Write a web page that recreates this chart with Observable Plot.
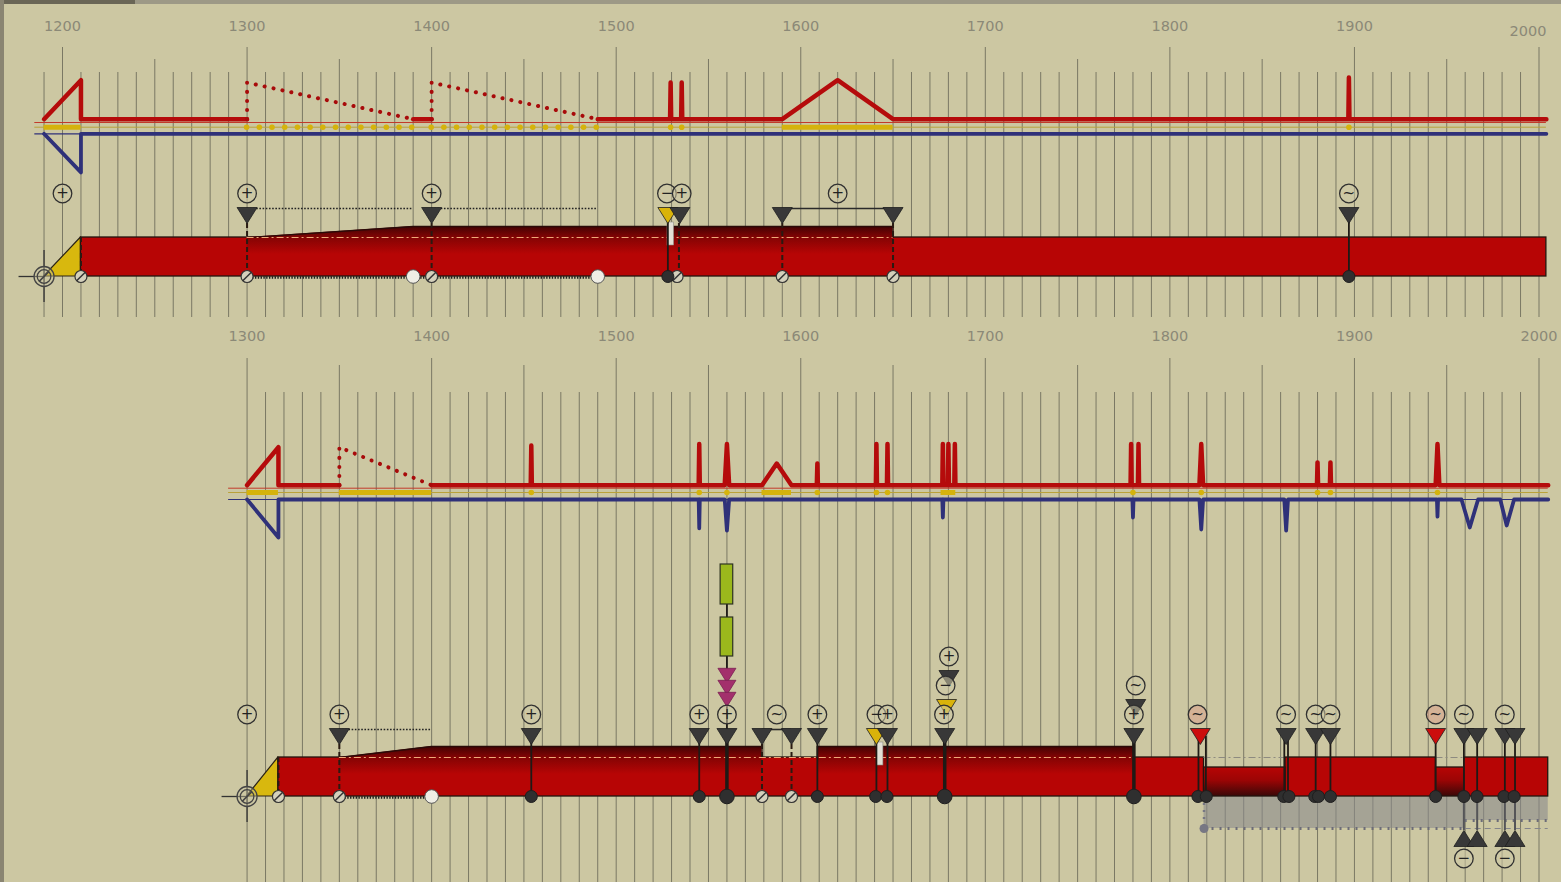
<!DOCTYPE html>
<html><head><meta charset="utf-8">
<script src="https://cdn.jsdelivr.net/npm/d3@7"></script>
<script src="https://cdn.jsdelivr.net/npm/@observablehq/plot@0.6"></script>
<style>
html,body{margin:0;padding:0;background:#ccc7a2;width:1561px;height:882px;overflow:hidden;font-family:"DejaVu Sans",sans-serif;}
#chart svg{display:block}
#stripTop{position:absolute;left:0;top:0;width:1561px;height:4px;background:#9d9986;}
#stripTopDark{position:absolute;left:0;top:0;width:135px;height:4px;background:#6a6656;}
#stripLeft{position:absolute;left:0;top:0;width:4px;height:882px;background:#8a8572;}
</style></head>
<body>
<div id="chart"></div>
<div id="stripTop"></div><div id="stripTopDark"></div><div id="stripLeft"></div>
<script>
// ======================= DATA =======================
// tick labels
const topTickYears = [1200,1300,1400,1500,1600,1700,1800,1900,2000];
const bottomTickYears = [1300,1400,1500,1600,1700,1800,1900,2000];
const topGridYears = d3.range(1190, 2001, 10);
const bottomGridYears = d3.range(1300, 2001, 10);

// ---------- upper panel ----------
const aThinRange = [1185, 2004];
const aRedSolid = [
  [[1190,0],[1210,1],[1210,0],[1300,0]],
  [[1390,0],[1400,0]],
  [[1490,0],[1529.2,0],[1529.5,0.94],[1529.8,0],[1535.2,0],[1535.5,0.94],[1535.8,0],[1590,0],[1620,1],[1650,0],[1896.7,0],[1897,1.07],[1897.3,0],[2004,0]]
];
const aRedDotted = [[[1300,0],[1300,0.94],[1390,0]], [[1400,0],[1400,0.94],[1490,0]]];
const aBlue = [[[1190,0],[1210,0.99],[1210,0],[2004,0]]];
const aYellowSolid = [[1190,1210],[1590,1650]];
const aYellowDotted = [[1300,1390],[1400,1490]];
const aYellowDots = [1529.5,1535.5,1897];
const aOrigin = [1190];
const aWedge = [1190,1210];
const aBar = [{from:1210,to:2004,level:"normal"}];
const aRaised = [[[1300,0],[1390,1],[1650,1],[1650,0]]];
const aDashDot = [[1300,1650]];
const aDashDotLowered = [];
const aGaps = [1529.6];
const aWedgeStem = [1210];
const aStemsDashed = [1300,1400,1534,1590,1650];
const aStemsSolid = [1528,1897];
const aStemsThick = [];
const aLinksDotted = [[1300,1390],[1400,1490]];
const aLinksSolid = [[1590,1650]];
const aFootDotted = [[1300,1490]];
const aTriangles = [
  {year:1300,kind:"gray",tier:0},{year:1400,kind:"gray",tier:0},
  {year:1528,kind:"yellow",tier:0},{year:1534.5,kind:"gray",tier:0},
  {year:1590,kind:"gray",tier:0},{year:1650,kind:"gray",tier:0},{year:1897,kind:"gray",tier:0}
];
const aSigns = [
  {year:1200,sign:"+",tier:0},{year:1300,sign:"+",tier:0},{year:1400,sign:"+",tier:0},
  {year:1527.5,sign:"−",tier:0},{year:1535.5,sign:"+",tier:0},{year:1620,sign:"+",tier:0},{year:1897,sign:"~",tier:0}
];
const aFeet = [
  {year:1210,kind:"hatched"},{year:1300,kind:"hatched"},{year:1390,kind:"open"},{year:1400,kind:"hatched"},
  {year:1490,kind:"open"},{year:1528,kind:"filled"},{year:1533,kind:"hatched"},{year:1590,kind:"hatched"},
  {year:1650,kind:"hatched"},{year:1897,kind:"filled"}
];

// ---------- lower panel ----------
const bThinRange = [1290, 2005];
const bRedSolid = [
  [[1300,0],[1317,0.95],[1317,0],[1350,0]],
  [[1400,0],[1453.7,0],[1454,0.99],[1454.3,0],[1544.7,0],[1545,1.03],[1545.3,0],[1558.8,0],[1560,1.03],[1561.2,0],
   [1579,0],[1587,0.54],[1595,0],[1608.7,0],[1609,0.54],[1609.3,0],[1640.7,0],[1641,1.03],[1641.3,0],
   [1646.7,0],[1647,1.03],[1647.3,0],[1676.7,0],[1677,1.03],[1677.3,0],[1679.7,0],[1680,1.03],[1680.3,0],
   [1683.2,0],[1683.5,1.03],[1683.8,0],[1778.7,0],[1779,1.03],[1779.3,0],[1782.7,0],[1783,1.03],[1783.3,0],
   [1816,0],[1817,1.03],[1818,0],[1879.7,0],[1880,0.57],[1880.3,0],[1886.7,0],[1887,0.57],[1887.3,0],
   [1944,0],[1945,1.03],[1946,0],[2005,0]]
];
const bRedDotted = [[[1350,0],[1350,0.95],[1400,0]]];
const bBlue = [[[1300,0],[1317,0.95],[1317,0],[1544.7,0],[1545,0.72],[1545.3,0],[1558.8,0],[1560,0.78],[1561.2,0],
  [1676.7,0],[1677,0.45],[1677.3,0],[1779.7,0],[1780,0.45],[1780.3,0],[1816,0],[1817,0.75],[1818,0],
  [1862,0],[1863,0.78],[1864,0],[1944.7,0],[1945,0.43],[1945.3,0],[1958,0],[1962.5,0.7],[1967,0],
  [1979,0],[1982.5,0.65],[1986.5,0],[2005,0]]];
const bYellowSolid = [[1300,1317],[1350,1400],[1579,1595],[1676,1684]];
const bYellowDotted = [];
const bYellowDots = [1454,1545,1560,1609,1641,1647,1780,1817,1880,1887,1945];
const bOrigin = [1300];
const bWedge = [1300,1317];
const bBar = [
  {from:1317,to:1818.5,level:"normal"},{from:1818.5,to:1862.6,level:"lowered"},
  {from:1862.6,to:1944.2,level:"normal"},{from:1944.2,to:1959.5,level:"lowered"},
  {from:1959.5,to:2005,level:"normal"}
];
const bRaised = [[[1350,0],[1400,1],[1579,1],[1579,0]], [[1609,0],[1609,1],[1780.5,1],[1780.5,0]]];
const bDashDot = [[1350,1780.5]];
const bDashDotLowered = [[1818.5,1862.6],[1944.2,1959.5]];
const bGaps = [1643];
const bWedgeStem = [1317];
const bStemsDashed = [1350,1579,1595];
const bStemsSolid = [1454,1545,1609,1641,1647,1815.5,1819.5,1862,1864,1879,1887,1944,1959.3,1966.5,1981.5,1987];
const bStemsThick = [1560,1678,1780.5];
const bLinksDotted = [[1350,1400]];
const bLinksSolid = [[1579,1595]];
const bFootDotted = [[1350,1400]];
const bTriangles = [
  {year:1350,kind:"gray",tier:0},{year:1454,kind:"gray",tier:0},{year:1545,kind:"gray",tier:0},
  {year:1560,kind:"gray",tier:0},{year:1579,kind:"gray",tier:0},{year:1595,kind:"gray",tier:0},
  {year:1609,kind:"gray",tier:0},{year:1641,kind:"yellow",tier:0},{year:1647,kind:"gray",tier:0},
  {year:1678,kind:"gray",tier:0},{year:1679,kind:"yellow",tier:1},{year:1680.3,kind:"gray",tier:2},
  {year:1780.5,kind:"gray",tier:0},{year:1781.5,kind:"gray",tier:1},{year:1816.5,kind:"red",tier:0},
  {year:1863,kind:"gray",tier:0},{year:1879,kind:"gray",tier:0},{year:1887,kind:"gray",tier:0},
  {year:1944,kind:"red",tier:0},{year:1959.3,kind:"gray",tier:0},{year:1966.5,kind:"gray",tier:0},
  {year:1981.5,kind:"gray",tier:0},{year:1987,kind:"gray",tier:0}
];
const bSigns = [
  {year:1300,sign:"+",tier:0},{year:1350,sign:"+",tier:0},{year:1454,sign:"+",tier:0},{year:1545,sign:"+",tier:0},
  {year:1560,sign:"+",tier:0},{year:1587,sign:"~",tier:0},{year:1609,sign:"+",tier:0},{year:1641,sign:"−",tier:0},
  {year:1647,sign:"+",tier:0},{year:1677.6,sign:"+",tier:0},{year:1678.5,sign:"−",tier:1},{year:1680.3,sign:"+",tier:2},
  {year:1780.5,sign:"+",tier:0},{year:1781.5,sign:"~",tier:1},{year:1815,sign:"~",tier:0,tone:"red"},
  {year:1863,sign:"~",tier:0},{year:1879,sign:"~",tier:0},{year:1887,sign:"~",tier:0},
  {year:1944,sign:"~",tier:0,tone:"red"},{year:1959.3,sign:"~",tier:0},{year:1981.5,sign:"~",tier:0}
];
const bLowerSigns = [{year:1959.3,sign:"−"},{year:1981.5,sign:"−"}];
const bLowerTriangles = [1959.3,1966.5,1981.5,1987];
const bFeet = [
  {year:1317,kind:"hatched"},{year:1350,kind:"hatched"},{year:1400,kind:"open"},{year:1454,kind:"filled"},
  {year:1545,kind:"filled"},{year:1560,kind:"big"},{year:1579,kind:"hatched"},{year:1595,kind:"hatched"},
  {year:1609,kind:"filled"},{year:1640.6,kind:"filled"},{year:1646.7,kind:"filled"},{year:1678,kind:"big"},
  {year:1780.5,kind:"big"},{year:1815.2,kind:"filled"},{year:1819.7,kind:"filled"},{year:1861.7,kind:"filled"},
  {year:1864.5,kind:"filled"},{year:1878.5,kind:"filled"},{year:1880.5,kind:"filled"},{year:1887,kind:"filled"},
  {year:1944,kind:"filled"},{year:1959.3,kind:"filled"},{year:1966.4,kind:"filled"},{year:1981,kind:"filled"},
  {year:1986.5,kind:"filled"}
];
const bGray = [{from:1818.5,to:1960,depth:1},{from:1960,to:2005,depth:0.75}];
const bGrayStart = [1818.5];
const bGreen = [{year:1560,block:0},{year:1560,block:1}];
const bMagenta = [{year:1560,layer:0},{year:1560,layer:1},{year:1560,layer:2}];

// ======================= LAYOUT / STYLE =======================
const X_DOMAIN = [1200, 2000];
const X_RANGE = [62, 1538.5];
const RED = "#b70505", REDLINE = "#b50b0b", BLUE = "#2f3179", YEL = "#d5b30c", DARK = "#383838";
const triColor = {gray:"#383838", yellow:"#d9b30a", red:"#cc0d0d"};

const PA = {height:320, label:26, redBase:118.7, redThin:122, yellow:126.7, blue:133.3, amp:39,
  gridMajor:47, gridHalf:59, gridMinor:72, gridBottom:317,
  signRow:193, triTop:207, tier:29, barTop:237, raise:11, lower:10, barBot:276};
const PB = {height:562, label:16, redBase:164.7, redThin:167.7, yellow:172, blue:179, amp:40,
  gridMajor:38, gridHalf:45, gridMinor:72, gridBottom:562,
  signRow:394, triTop:408, tier:29, barTop:437, raise:11, lower:10, barBot:476,
  grayDepth:32, lowTriTip:510, lowSign:538, greenTop:[244,297], greenH:[40,39], magentaTop:348, magentaStep:12};

// custom symbols
const slashSymbol = {draw(ctx, size){const r=Math.sqrt(size/Math.PI); ctx.moveTo(-0.72*r,0.72*r); ctx.lineTo(0.72*r,-0.72*r);}};
const triDown = {draw(ctx, size){const r=Math.sqrt(size/Math.PI); ctx.moveTo(-r,-0.8*r); ctx.lineTo(r,-0.8*r); ctx.lineTo(0,0.8*r); ctx.closePath();}};
const triUp = {draw(ctx, size){const r=Math.sqrt(size/Math.PI); ctx.moveTo(-r,0.8*r); ctx.lineTo(r,0.8*r); ctx.lineTo(0,-0.8*r); ctx.closePath();}};

function pts(runs){ return runs.flatMap((run, seg) => run.map(([year, level]) => ({seg, year, level}))); }
function spans(list){ return list.map(([from,to]) => ({from,to})); }

function panel(P, D, gid) {
  const triC = t => P.triTop - t*P.tier + 8;
  const signY = t => P.signRow - t*P.tier;
  const marks = [];
  // grid
  marks.push(Plot.ruleX(D.grid, {x:d=>d, y1:d=> d%100===0?P.gridMajor:(d%50===0?P.gridHalf:P.gridMinor), y2:()=>P.gridBottom, stroke:"#4f4e44", strokeOpacity:0.65, strokeWidth:1}));
  // tick labels
  marks.push(Plot.text(D.ticks.filter(d=>!(D.shiftLast && d===2000)), {x:d=>d, y:()=>P.label, text:d=>String(d), fill:"#8b8977", fontSize:14.5, fontFamily:"DejaVu Sans, sans-serif"}));
  if (D.shiftLast) marks.push(Plot.text([2000], {x:d=>d, y:()=>P.label+5, dx:-11, text:d=>String(d), fill:"#8b8977", fontSize:14.5, fontFamily:"DejaVu Sans, sans-serif"}));
  // thin reference lines
  const thin = [{from:D.thin[0], to:D.thin[1]}];
  marks.push(Plot.ruleY(thin, {x1:"from", x2:"to", y:()=>P.redThin, stroke:"#c23a2a", strokeWidth:1}));
  marks.push(Plot.ruleY(thin, {x1:"from", x2:"to", y:()=>P.yellow, stroke:"#b9a13a", strokeWidth:1}));
  marks.push(Plot.ruleY(thin, {x1:"from", x2:"to", y:()=>P.blue, stroke:BLUE, strokeWidth:1.2}));
  // yellow
  marks.push(Plot.ruleY(spans(D.yellowSolid), {x1:"from", x2:"to", y:()=>P.yellow, stroke:YEL, strokeWidth:5}));
  marks.push(Plot.ruleY(spans(D.yellowDotted), {x1:"from", x2:"to", y:()=>P.yellow, stroke:YEL, strokeWidth:5.5, strokeDasharray:"0.1,12.6", strokeLinecap:"round"}));
  marks.push(Plot.dot(D.yellowDots, {x:d=>d, y:()=>P.yellow, r:2.8, fill:YEL}));
  // red profile
  marks.push(Plot.line(pts(D.redSolid), {x:"year", y:d=>P.redBase - d.level*P.amp, z:"seg", stroke:REDLINE, strokeWidth:4.5, strokeLinejoin:"round", strokeLinecap:"round", curve:"linear"}));
  marks.push(Plot.line(pts(D.redDotted), {x:"year", y:d=>P.redBase - d.level*P.amp, z:"seg", stroke:"#a80a0a", strokeWidth:4, strokeDasharray:"0.1,9", strokeLinecap:"round", curve:"linear"}));
  // blue profile
  marks.push(Plot.line(pts(D.blue), {x:"year", y:d=>P.blue + d.level*P.amp, z:"seg", stroke:BLUE, strokeWidth:3.8, strokeLinejoin:"round", strokeLinecap:"round", curve:"linear"}));
  // gray zone under bar
  if (D.gray) {
    marks.push(Plot.rect(D.gray, {x1:"from", x2:"to", y1:()=>P.barBot, y2:d=>P.barBot + d.depth*P.grayDepth, fill:"#8a8a8c", fillOpacity:0.6}));
    marks.push(Plot.ruleY(D.gray, {x1:"from", x2:"to", y:d=>P.barBot + d.depth*P.grayDepth, stroke:"#6c6c78", strokeWidth:3, strokeDasharray:"2,6"}));
    marks.push(Plot.ruleY(D.gray.slice(1), {x1:"from", x2:"to", y:()=>P.barBot + P.grayDepth, stroke:"#85858a", strokeWidth:1, strokeDasharray:"6,4"}));
    marks.push(Plot.ruleX(D.grayStart, {x:d=>d, y1:()=>P.barBot, y2:()=>P.barBot+P.grayDepth, stroke:"#777783", strokeWidth:2.5, strokeDasharray:"2,5"}));
    marks.push(Plot.dot(D.grayStart, {x:d=>d, y:()=>P.barBot+P.grayDepth, r:4.5, fill:"#777783"}));
  }
  // yellow wedge
  marks.push(Plot.areaY([{year:D.wedge[0], top:0},{year:D.wedge[1], top:1}], {x:"year", y1:()=>P.barBot, y2:d=>P.barBot - d.top*(P.barBot-P.barTop), fill:"#d8b80e", stroke:"#2a2216", strokeWidth:1.2, curve:"linear"}));
  // bar
  marks.push(Plot.rect(D.bar.filter(d=>d.level==="normal"), {x1:"from", x2:"to", y1:()=>P.barTop, y2:()=>P.barBot, fill:RED, stroke:"#22140e", strokeWidth:1.3}));
  marks.push(Plot.rect(D.bar.filter(d=>d.level==="lowered"), {x1:"from", x2:"to", y1:()=>P.barTop+P.lower, y2:()=>P.barBot, fill:`url(#lower${gid})`, stroke:"#22140e", strokeWidth:1.3}));
  // raised zones
  const raised = pts(D.raised);
  marks.push(Plot.areaY(raised, {x:"year", y1:()=>P.barTop+17, y2:d=>P.barTop - d.level*P.raise, z:"seg", fill:`url(#raise${gid})`, curve:"linear"}));
  marks.push(Plot.line(raised, {x:"year", y:d=>P.barTop - d.level*P.raise, z:"seg", stroke:"#2a0a08", strokeWidth:1.3, curve:"linear"}));
  marks.push(Plot.ruleY(spans(D.dashDot), {x1:"from", x2:"to", y:()=>P.barTop, stroke:"#eeaa78", strokeWidth:1, strokeDasharray:"7,3,2,3"}));
  marks.push(Plot.ruleY(spans(D.dashDotLowered), {x1:"from", x2:"to", y:()=>P.barTop, stroke:"#8d8a80", strokeWidth:1.2, strokeDasharray:"7,3,2,3"}));
  // gaps
  marks.push(Plot.rect(D.gaps, {x1:d=>d, x2:d=>d, insetLeft:-3.3, insetRight:-3.3, y1:()=>P.barTop-15, y2:()=>P.barTop+8, fill:"#e2e0d6", stroke:"#8a8a80", strokeWidth:0.6}));
  // stems
  marks.push(Plot.ruleX(D.wedgeStem, {x:d=>d, y1:()=>P.barTop, y2:()=>P.barBot, stroke:"#2a1a12", strokeWidth:2, strokeDasharray:"5,3"}));
  marks.push(Plot.ruleX(D.stemsDashed, {x:d=>d, y1:()=>triC(0), y2:()=>P.barBot, stroke:"#2a1a12", strokeWidth:2, strokeDasharray:"5,3"}));
  marks.push(Plot.ruleX(D.stemsSolid, {x:d=>d, y1:()=>triC(0), y2:()=>P.barBot, stroke:"#1e1a16", strokeWidth:1.8}));
  marks.push(Plot.ruleX(D.stemsThick, {x:d=>d, y1:()=>triC(0), y2:()=>P.barBot, stroke:"#1e1a16", strokeWidth:3.5}));
  if (D.green) {
    marks.push(Plot.ruleX([D.green[0].year], {x:d=>d, y1:()=>P.greenTop[0], y2:()=>triC(0), stroke:"#1e1a16", strokeWidth:1.8}));
    marks.push(Plot.ruleX(D.lowerTriangles, {x:d=>d, y1:()=>P.barBot, y2:()=>P.lowTriTip, stroke:"#555558", strokeWidth:2}));
  }
  // connectors
  marks.push(Plot.ruleY(spans(D.linksDotted), {x1:"from", x2:"to", y:()=>P.triTop+1, stroke:"#222", strokeWidth:1.6, strokeDasharray:"1.6,1.6"}));
  marks.push(Plot.ruleY(spans(D.linksSolid), {x1:"from", x2:"to", y:()=>P.triTop+1, stroke:"#2a2a2a", strokeWidth:1.6}));
  marks.push(Plot.ruleY(spans(D.footDotted), {x1:"from", x2:"to", y:()=>P.barBot+1, stroke:"#1e1e1e", strokeWidth:2.6, strokeDasharray:"1.4,1.4"}));
  // green blocks and magenta stack
  if (D.green) {
    marks.push(Plot.rect(D.green, {x1:"year", x2:"year", insetLeft:-6.3, insetRight:-6.3, y1:d=>P.greenTop[d.block], y2:d=>P.greenTop[d.block]+P.greenH[d.block], fill:"#9bb81c", stroke:"#2e3220", strokeWidth:1.2}));
    marks.push(Plot.dot(D.magenta, {x:"year", y:d=>P.magentaTop + d.layer*P.magentaStep + 7, symbol:triDown, r:9, fill:"#a3306c", stroke:"#7a1f50", strokeWidth:0.8}));
  }
  // triangles
  marks.push(Plot.dot(D.triangles, {x:"year", y:d=>triC(d.tier), symbol:triDown, r:10, fill:d=>triColor[d.kind], stroke:"#1e1e1e", strokeWidth:0.8}));
  if (D.lowerTriangles) {
    marks.push(Plot.dot(D.lowerTriangles, {x:d=>d, y:()=>P.lowTriTip+8, symbol:triUp, r:10, fill:"#383838", stroke:"#1e1e1e", strokeWidth:0.8}));
  }
  // signs
  const signDots = (data, yf) => [
    Plot.dot(data, {x:"year", y:yf, r:9.3, fill:d=>d.tone==="red"?"#dba08c":"#cdc8a6", fillOpacity:0.55, stroke:"#303030", strokeWidth:1.3}),
    Plot.text(data, {x:"year", y:yf, text:"sign", fill:"#222", fontSize:15, fontFamily:"DejaVu Sans, sans-serif"})
  ];
  marks.push(...signDots(D.signs, d=>signY(d.tier)));
  if (D.lowerSigns) marks.push(...signDots(D.lowerSigns, ()=>P.lowSign));
  // feet
  marks.push(Plot.dot(D.feet.filter(d=>d.kind==="hatched"), {x:"year", y:()=>P.barBot, r:6, fill:"#d4d0bb", stroke:"#333", strokeWidth:1.2}));
  marks.push(Plot.dot(D.feet.filter(d=>d.kind==="hatched"), {x:"year", y:()=>P.barBot, r:6, symbol:slashSymbol, fill:"none", stroke:"#333", strokeWidth:1.5}));
  marks.push(Plot.dot(D.feet.filter(d=>d.kind==="open"), {x:"year", y:()=>P.barBot, r:6.8, fill:"#efede4", stroke:"#555", strokeWidth:1}));
  marks.push(Plot.dot(D.feet.filter(d=>d.kind==="filled"), {x:"year", y:()=>P.barBot, r:6, fill:"#2f2f2f", stroke:"#1e1e1e", strokeWidth:1}));
  marks.push(Plot.dot(D.feet.filter(d=>d.kind==="big"), {x:"year", y:()=>P.barBot, r:7.3, fill:"#2f2f2f", stroke:"#1e1e1e", strokeWidth:1}));
  // origin cross
  marks.push(Plot.ruleX(D.origin, {x:d=>d, y1:()=>P.barBot-26, y2:()=>P.barBot+26, stroke:"#333", strokeWidth:1.3}));
  marks.push(Plot.ruleY(D.origin, {x1:d=>d, x2:d=>d, insetLeft:-25, y:()=>P.barBot, stroke:"#333", strokeWidth:1.3}));
  marks.push(Plot.dot(D.origin, {x:d=>d, y:()=>P.barBot, r:10, fill:"#ccc7a2", fillOpacity:0.4, stroke:"#444", strokeWidth:1.3}));
  marks.push(Plot.dot(D.origin, {x:d=>d, y:()=>P.barBot, r:6.8, fill:"none", stroke:"#444", strokeWidth:1.3}));
  marks.push(Plot.dot(D.origin, {x:d=>d, y:()=>P.barBot, r:6.8, symbol:slashSymbol, fill:"none", stroke:"#444", strokeWidth:1.5}));

  const svg = Plot.plot({
    width:1561, height:P.height, margin:0,
    x:{domain:X_DOMAIN, range:X_RANGE, axis:null},
    y:{domain:[0,P.height], range:[0,P.height], axis:null},
    color:{type:"identity"},
    style:{background:"transparent", overflow:"visible"},
    marks
  });
  const defs = d3.select(svg).insert("defs", ":first-child");
  const g1 = defs.append("linearGradient").attr("id", "raise"+gid).attr("x1",0).attr("y1",0).attr("x2",0).attr("y2",1);
  g1.append("stop").attr("offset","0%").attr("stop-color","#420303");
  g1.append("stop").attr("offset","40%").attr("stop-color","#830404");
  g1.append("stop").attr("offset","100%").attr("stop-color",RED);
  const g2 = defs.append("linearGradient").attr("id", "lower"+gid).attr("x1",0).attr("y1",0).attr("x2",0).attr("y2",1);
  g2.append("stop").attr("offset","0%").attr("stop-color",RED);
  g2.append("stop").attr("offset","45%").attr("stop-color","#9c0505");
  g2.append("stop").attr("offset","100%").attr("stop-color","#3a0808");
  return svg;
}

const A = {grid:topGridYears, ticks:topTickYears, shiftLast:true, thin:aThinRange, redSolid:aRedSolid, redDotted:aRedDotted,
  blue:aBlue, yellowSolid:aYellowSolid, yellowDotted:aYellowDotted, yellowDots:aYellowDots, origin:aOrigin, wedge:aWedge,
  bar:aBar, raised:aRaised, dashDot:aDashDot, dashDotLowered:aDashDotLowered, gaps:aGaps, wedgeStem:aWedgeStem,
  stemsDashed:aStemsDashed, stemsSolid:aStemsSolid, stemsThick:aStemsThick, linksDotted:aLinksDotted, linksSolid:aLinksSolid,
  footDotted:aFootDotted, triangles:aTriangles, signs:aSigns, feet:aFeet};
const B = {grid:bottomGridYears, ticks:bottomTickYears, shiftLast:false, thin:bThinRange, redSolid:bRedSolid, redDotted:bRedDotted,
  blue:bBlue, yellowSolid:bYellowSolid, yellowDotted:bYellowDotted, yellowDots:bYellowDots, origin:bOrigin, wedge:bWedge,
  bar:bBar, raised:bRaised, dashDot:bDashDot, dashDotLowered:bDashDotLowered, gaps:bGaps, wedgeStem:bWedgeStem,
  stemsDashed:bStemsDashed, stemsSolid:bStemsSolid, stemsThick:bStemsThick, linksDotted:bLinksDotted, linksSolid:bLinksSolid,
  footDotted:bFootDotted, triangles:bTriangles, signs:bSigns, lowerSigns:bLowerSigns, lowerTriangles:bLowerTriangles,
  feet:bFeet, gray:bGray, grayStart:bGrayStart, green:bGreen, magenta:bMagenta};

const chart = document.getElementById("chart");
chart.appendChild(panel(PA, A, "A"));
chart.appendChild(panel(PB, B, "B"));
</script>
</body></html>
